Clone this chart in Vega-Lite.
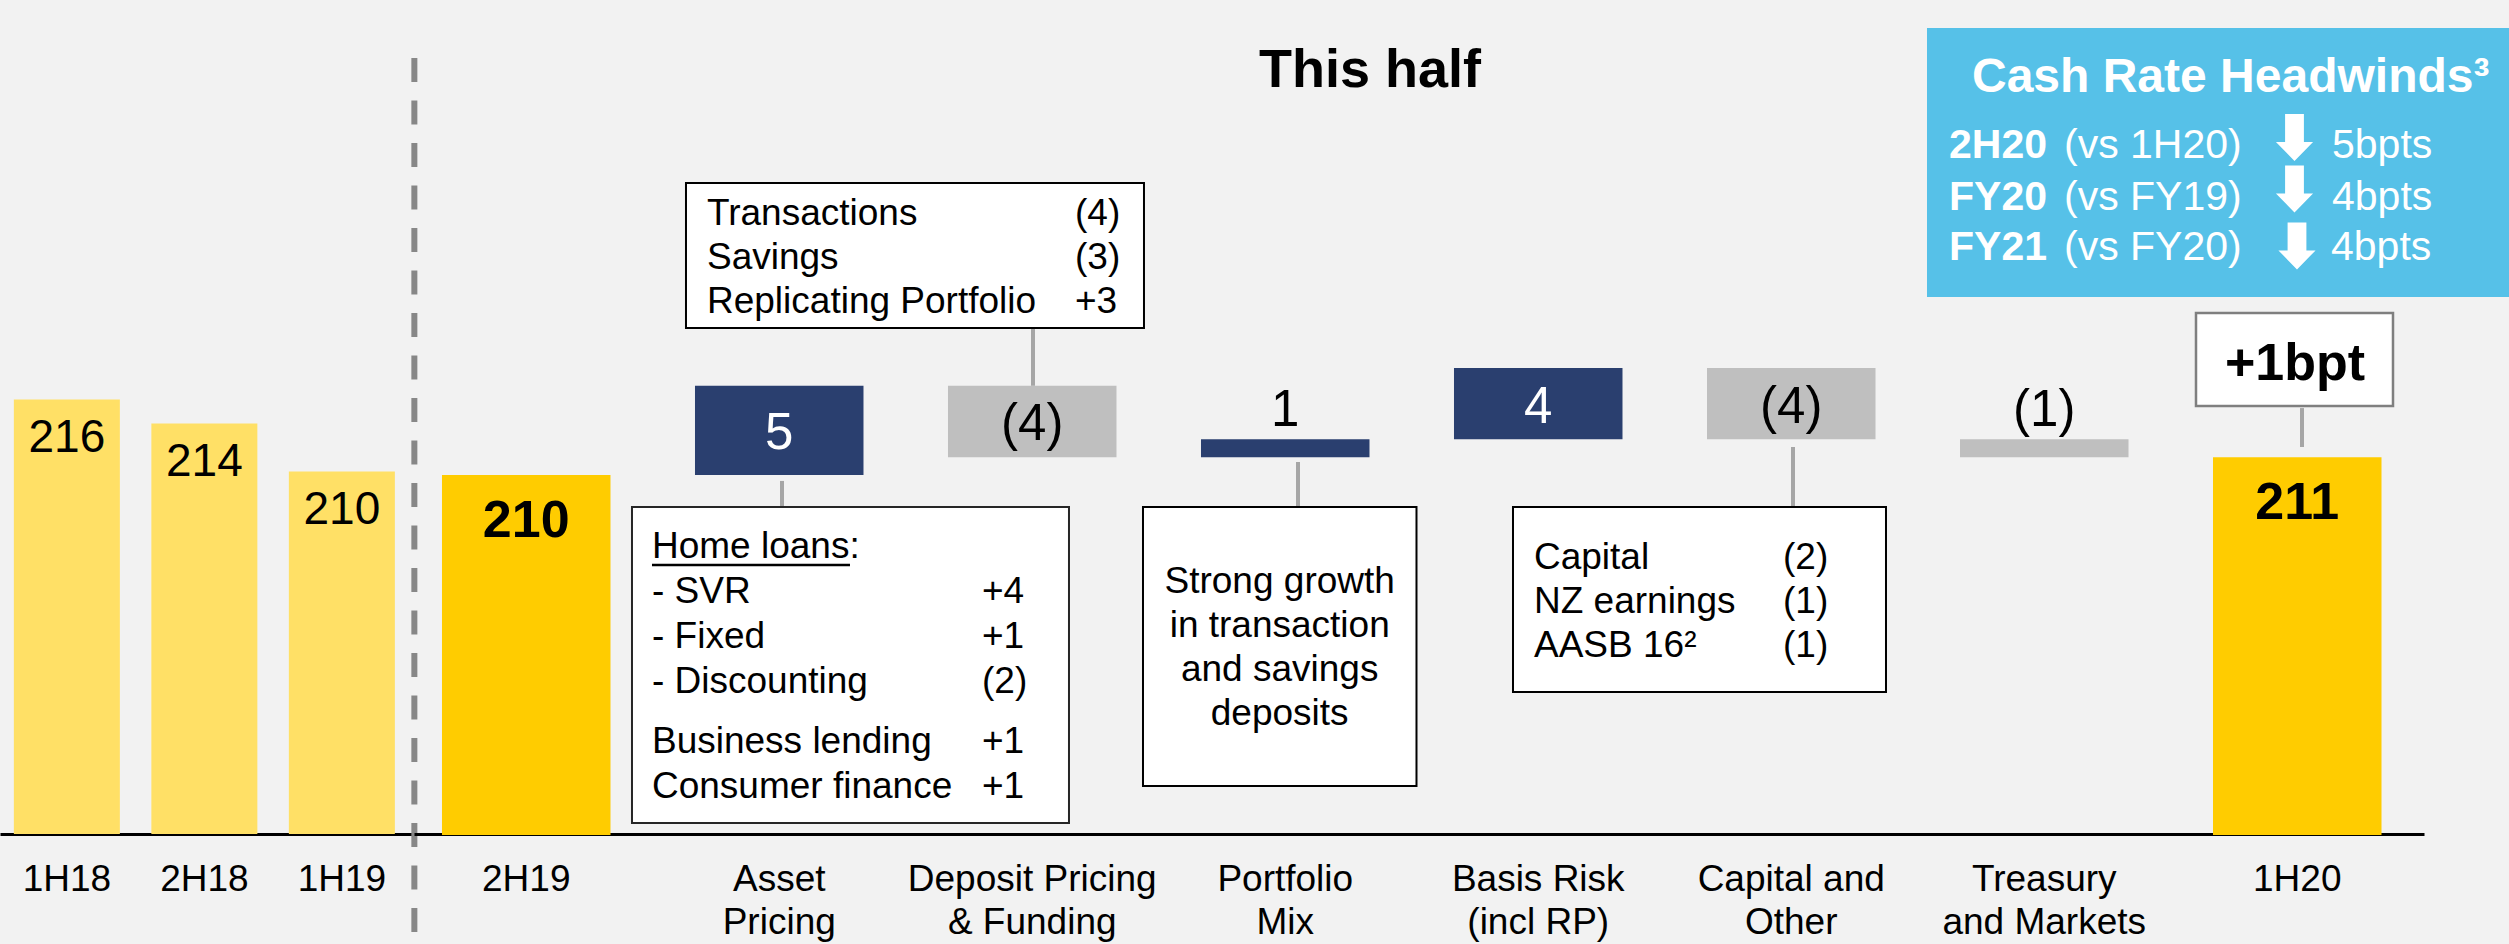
{
  "$schema": "https://vega.github.io/schema/vega-lite/v6.json",
  "background": "#f2f2f2",
  "padding": 0,
  "spacing": 0,
  "bounds": "flush",
  "config": {
    "font": "Liberation Sans",
    "view": {"stroke": null},
    "text": {"font": "Liberation Sans"},
    "axisX": {
      "domainColor": "black",
      "domainWidth": 3,
      "ticks": false,
      "tickSize": 0,
      "labelFont": "Liberation Sans",
      "labelFontSize": 37,
      "labelColor": "black",
      "labelPadding": 27,
      "labelLineHeight": 43,
      "labelAngle": 0,
      "labelLimit": 600,
      "labelOverlap": false,
      "zindex": 1
    }
  },
  "datasets": {
    "history": [
      {"period": "1H18", "value": 216},
      {"period": "2H18", "value": 214},
      {"period": "1H19", "value": 210}
    ],
    "totals": [
      {"category": "2H19", "value": 210},
      {"category": "1H20", "value": 211}
    ],
    "changes": [
      {"category": "Asset Pricing", "start": 210, "end": 215, "kind": "increase", "label": "5"},
      {"category": "Deposit Pricing & Funding", "start": 215, "end": 211, "kind": "decrease", "label": "(4)"},
      {"category": "Portfolio Mix", "start": 211, "end": 212, "kind": "increase", "label": "1"},
      {"category": "Basis Risk (incl RP)", "start": 212, "end": 216, "kind": "increase", "label": "4"},
      {"category": "Capital and Other", "start": 216, "end": 212, "kind": "decrease", "label": "(4)"},
      {"category": "Treasury and Markets", "start": 212, "end": 211, "kind": "decrease", "label": "(1)"}
    ],
    "notes": [
      {"box": "deposit", "category": "Deposit Pricing & Funding", "left": ["Transactions", "Savings", "Replicating Portfolio"], "right": ["(4)", "(3)", "+3"]},
      {"box": "asset", "category": "Asset Pricing", "left": ["Home loans:", "- SVR", "- Fixed", "- Discounting"], "right": ["", "+4", "+1", "(2)"]},
      {"box": "asset-other", "category": "Asset Pricing", "left": ["Business lending", "Consumer finance"], "right": ["+1", "+1"]},
      {"box": "portfolio", "category": "Portfolio Mix", "left": ["Strong growth", "in transaction", "and savings", "deposits"]},
      {"box": "capital", "category": "Capital and Other", "left": ["Capital", "NZ earnings", "AASB 16²"], "right": ["(2)", "(1)", "(1)"]},
      {"box": "total", "category": "1H20", "left": ["+1bpt"]},
      {"box": "heading", "category": "Portfolio Mix", "left": ["This half"]},
      {"box": "headwinds", "category": "1H20", "left": ["Cash Rate Headwinds³"]}
    ],
    "headwinds": [
      {"period": "2H20", "vs": "(vs 1H20)", "change": "5bpts"},
      {"period": "FY20", "vs": "(vs FY19)", "change": "4bpts"},
      {"period": "FY21", "vs": "(vs FY20)", "change": "4bpts"}
    ]
  },
  "hconcat": [
    {
      "width": 414,
      "height": 834,
      "data": {"name": "history"},
      "layer": [
        {
          "mark": {"type": "bar", "color": "#FFE066"},
          "encoding": {
            "x": {"field": "period", "type": "nominal", "scale": {"domain": ["1H18", "2H18", "1H19"], "paddingInner": 0.229, "paddingOuter": 0.12, "align": 0.42}, "axis": {"title": null}},
            "y": {"field": "value", "type": "quantitative", "scale": {"domain": [179.8, 249.3], "zero": false, "nice": false}, "axis": null},
            "y2": {"datum": 179.8}
          }
        },
        {
          "mark": {"type": "text", "fontSize": 46, "dy": 52, "baseline": "alphabetic", "align": "center", "color": "black"},
          "encoding": {
            "x": {"field": "period", "type": "nominal"},
            "y": {"field": "value", "type": "quantitative", "axis": null},
            "text": {"field": "value", "type": "quantitative"}
          }
        },
        {
          "transform": [{"filter": "datum.period == '1H19'"}],
          "mark": {"type": "rule", "xOffset": 72.5, "strokeWidth": 6, "strokeDash": [24, 18.5], "color": "#878787"},
          "encoding": {
            "x": {"field": "period", "type": "nominal"},
            "y": {"datum": 244.47, "type": "quantitative", "axis": null},
            "y2": {"datum": 170.63}
          }
        }
      ]
    },
    {
      "width": 2095,
      "height": 834,
      "layer": [
        {
          "data": {"name": "totals"},
          "mark": {"type": "bar", "color": "#FFCC00"},
          "encoding": {
            "x": {
              "field": "category", "type": "nominal",
              "scale": {
                "domain": ["2H19", "Asset Pricing", "Deposit Pricing & Funding", "Portfolio Mix", "Basis Risk (incl RP)", "Capital and Other", "Treasury and Markets", "1H20"],
                "range": [0, 2010], "paddingInner": 0.334, "paddingOuter": 0.1393, "align": 0.397
              },
              "axis": {
                "title": null,
                "labelExpr": "datum.value == 'Asset Pricing' ? ['Asset', 'Pricing'] : datum.value == 'Deposit Pricing & Funding' ? ['Deposit Pricing', '& Funding'] : datum.value == 'Portfolio Mix' ? ['Portfolio', 'Mix'] : datum.value == 'Basis Risk (incl RP)' ? ['Basis Risk', '(incl RP)'] : datum.value == 'Capital and Other' ? ['Capital and', 'Other'] : datum.value == 'Treasury and Markets' ? ['Treasury', 'and Markets'] : datum.label"
              }
            },
            "y": {"field": "value", "type": "quantitative", "scale": {"domain": [189.9, 236.6], "zero": false, "nice": false}, "axis": null},
            "y2": {"datum": 189.85}
          }
        },
        {
          "data": {"name": "changes"},
          "mark": {"type": "bar"},
          "encoding": {
            "x": {"field": "category", "type": "nominal"},
            "y": {"field": "start", "type": "quantitative", "axis": null},
            "y2": {"field": "end"},
            "color": {"field": "kind", "type": "nominal", "scale": {"domain": ["increase", "decrease"], "range": ["#2A3F6F", "#BFBFBF"]}, "legend": null}
          }
        },
        {
          "data": {"name": "totals"},
          "mark": {"type": "text", "fontSize": 52, "fontWeight": "bold", "dy": 62, "baseline": "alphabetic", "color": "black"},
          "encoding": {
            "x": {"field": "category", "type": "nominal"},
            "y": {"field": "value", "type": "quantitative", "axis": null},
            "text": {"field": "value", "type": "quantitative"}
          }
        },
        {
          "data": {"name": "changes"},
          "transform": [
            {"filter": "abs(datum.end - datum.start) >= 2"},
            {"fold": ["start", "end"], "as": ["edge", "level"]},
            {"aggregate": [{"op": "mean", "field": "level", "as": "mid"}], "groupby": ["category", "label", "kind"]}
          ],
          "mark": {"type": "text", "fontSize": 51, "baseline": "middle", "dy": 4},
          "encoding": {
            "x": {"field": "category", "type": "nominal"},
            "y": {"field": "mid", "type": "quantitative", "axis": null},
            "text": {"field": "label", "type": "nominal"},
            "color": {"condition": {"test": "datum.kind == 'increase'", "value": "white"}, "value": "black"}
          }
        },
        {
          "data": {"name": "changes"},
          "transform": [
            {"filter": "abs(datum.end - datum.start) < 2"},
            {"fold": ["start", "end"], "as": ["edge", "level"]},
            {"aggregate": [{"op": "max", "field": "level", "as": "top"}], "groupby": ["category", "label"]}
          ],
          "mark": {"type": "text", "fontSize": 51, "baseline": "alphabetic", "dy": -13, "color": "black"},
          "encoding": {
            "x": {"field": "category", "type": "nominal"},
            "y": {"field": "top", "type": "quantitative", "axis": null},
            "text": {"field": "label", "type": "nominal"}
          }
        },
        {
          "data": {"name": "notes"},
          "transform": [{"filter": "datum.box == 'deposit'"}],
          "layer": [
            {
              "mark": {"type": "rule", "xOffset": 0.75, "strokeWidth": 4, "color": "#A6A6A6"},
              "encoding": {"x": {"field": "category", "type": "nominal"}, "y": {"datum": 218.23, "type": "quantitative", "axis": null}, "y2": {"datum": 215}}
            },
            {
              "mark": {"type": "bar", "width": 458, "xOffset": -117.25, "fill": "white", "stroke": "black", "strokeWidth": 2},
              "encoding": {"x": {"field": "category", "type": "nominal"}, "y": {"datum": 226.35, "type": "quantitative", "axis": null}, "y2": {"datum": 218.23}}
            },
            {
              "mark": {"type": "text", "align": "left", "baseline": "alphabetic", "fontSize": 37, "lineHeight": 44, "dx": -325.25, "color": "black"},
              "encoding": {"x": {"field": "category", "type": "nominal"}, "y": {"datum": 224.0, "type": "quantitative", "axis": null}, "text": {"field": "left", "type": "nominal"}}
            },
            {
              "mark": {"type": "text", "align": "left", "baseline": "alphabetic", "fontSize": 37, "lineHeight": 44, "dx": 42.75, "color": "black"},
              "encoding": {"x": {"field": "category", "type": "nominal"}, "y": {"datum": 224.0, "type": "quantitative", "axis": null}, "text": {"field": "right", "type": "nominal"}}
            }
          ]
        },
        {
          "data": {"name": "notes"},
          "transform": [{"filter": "datum.box == 'asset'"}],
          "layer": [
            {
              "mark": {"type": "rule", "xOffset": 2.75, "strokeWidth": 4, "color": "#A6A6A6"},
              "encoding": {"x": {"field": "category", "type": "nominal"}, "y": {"datum": 209.67, "type": "quantitative", "axis": null}, "y2": {"datum": 208.21}}
            },
            {
              "mark": {"type": "bar", "width": 437, "xOffset": 71.25, "fill": "white", "stroke": "#262626", "strokeWidth": 2},
              "encoding": {"x": {"field": "category", "type": "nominal"}, "y": {"datum": 208.21, "type": "quantitative", "axis": null}, "y2": {"datum": 190.52}}
            },
            {
              "mark": {"type": "text", "align": "left", "baseline": "alphabetic", "fontSize": 37, "lineHeight": 45, "dx": -127.25, "color": "black"},
              "encoding": {"x": {"field": "category", "type": "nominal"}, "y": {"datum": 205.35, "type": "quantitative", "axis": null}, "text": {"field": "left", "type": "nominal"}}
            },
            {
              "mark": {"type": "text", "align": "left", "baseline": "alphabetic", "fontSize": 37, "lineHeight": 45, "dx": 202.75, "color": "black"},
              "encoding": {"x": {"field": "category", "type": "nominal"}, "y": {"datum": 205.35, "type": "quantitative", "axis": null}, "text": {"field": "right", "type": "nominal"}}
            },
            {
              "mark": {"type": "rule", "xOffset": -127.25, "x2Offset": 70.75, "strokeWidth": 2.5, "color": "black"},
              "encoding": {"x": {"field": "category", "type": "nominal"}, "x2": {"field": "category"}, "y": {"datum": 204.96, "type": "quantitative", "axis": null}}
            }
          ]
        },
        {
          "data": {"name": "notes"},
          "transform": [{"filter": "datum.box == 'asset-other'"}],
          "layer": [
            {
              "mark": {"type": "text", "align": "left", "baseline": "alphabetic", "fontSize": 37, "lineHeight": 45, "dx": -127.25, "color": "black"},
              "encoding": {"x": {"field": "category", "type": "nominal"}, "y": {"datum": 194.44, "type": "quantitative", "axis": null}, "text": {"field": "left", "type": "nominal"}}
            },
            {
              "mark": {"type": "text", "align": "left", "baseline": "alphabetic", "fontSize": 37, "lineHeight": 45, "dx": 202.75, "color": "black"},
              "encoding": {"x": {"field": "category", "type": "nominal"}, "y": {"datum": 194.44, "type": "quantitative", "axis": null}, "text": {"field": "right", "type": "nominal"}}
            }
          ]
        },
        {
          "data": {"name": "notes"},
          "transform": [{"filter": "datum.box == 'portfolio'"}],
          "layer": [
            {
              "mark": {"type": "rule", "xOffset": 12.75, "strokeWidth": 4, "color": "#A6A6A6"},
              "encoding": {"x": {"field": "category", "type": "nominal"}, "y": {"datum": 210.73, "type": "quantitative", "axis": null}, "y2": {"datum": 208.21}}
            },
            {
              "mark": {"type": "bar", "width": 273.5, "xOffset": -5.5, "fill": "white", "stroke": "black", "strokeWidth": 2},
              "encoding": {"x": {"field": "category", "type": "nominal"}, "y": {"datum": 208.21, "type": "quantitative", "axis": null}, "y2": {"datum": 192.59}}
            },
            {
              "mark": {"type": "text", "align": "center", "baseline": "alphabetic", "fontSize": 37, "lineHeight": 44, "dx": -5.55, "color": "black"},
              "encoding": {"x": {"field": "category", "type": "nominal"}, "y": {"datum": 203.42, "type": "quantitative", "axis": null}, "text": {"field": "left", "type": "nominal"}}
            }
          ]
        },
        {
          "data": {"name": "notes"},
          "transform": [{"filter": "datum.box == 'capital'"}],
          "layer": [
            {
              "mark": {"type": "rule", "xOffset": 1.75, "strokeWidth": 4, "color": "#A6A6A6"},
              "encoding": {"x": {"field": "category", "type": "nominal"}, "y": {"datum": 211.57, "type": "quantitative", "axis": null}, "y2": {"datum": 208.21}}
            },
            {
              "mark": {"type": "bar", "width": 373, "xOffset": -91.75, "fill": "white", "stroke": "black", "strokeWidth": 2},
              "encoding": {"x": {"field": "category", "type": "nominal"}, "y": {"datum": 208.21, "type": "quantitative", "axis": null}, "y2": {"datum": 197.85}}
            },
            {
              "mark": {"type": "text", "align": "left", "baseline": "alphabetic", "fontSize": 37, "lineHeight": 44, "dx": -257.25, "color": "black"},
              "encoding": {"x": {"field": "category", "type": "nominal"}, "y": {"datum": 204.74, "type": "quantitative", "axis": null}, "text": {"field": "left", "type": "nominal"}}
            },
            {
              "mark": {"type": "text", "align": "left", "baseline": "alphabetic", "fontSize": 37, "lineHeight": 44, "dx": -8.25, "color": "black"},
              "encoding": {"x": {"field": "category", "type": "nominal"}, "y": {"datum": 204.74, "type": "quantitative", "axis": null}, "text": {"field": "right", "type": "nominal"}}
            }
          ]
        },
        {
          "data": {"name": "notes"},
          "transform": [{"filter": "datum.box == 'total'"}],
          "layer": [
            {
              "mark": {"type": "rule", "xOffset": 4.75, "strokeWidth": 4, "color": "#A6A6A6"},
              "encoding": {"x": {"field": "category", "type": "nominal"}, "y": {"datum": 213.75, "type": "quantitative", "axis": null}, "y2": {"datum": 211.57}}
            },
            {
              "mark": {"type": "bar", "width": 197, "xOffset": -2.75, "fill": "white", "stroke": "#7F7F7F", "strokeWidth": 2.5},
              "encoding": {"x": {"field": "category", "type": "nominal"}, "y": {"datum": 219.07, "type": "quantitative", "axis": null}, "y2": {"datum": 213.87}}
            },
            {
              "mark": {"type": "text", "align": "center", "baseline": "alphabetic", "fontSize": 52, "fontWeight": "bold", "dx": -2.25, "color": "black"},
              "encoding": {"x": {"field": "category", "type": "nominal"}, "y": {"datum": 215.32, "type": "quantitative", "axis": null}, "text": {"field": "left", "type": "nominal"}}
            }
          ]
        },
        {
          "data": {"name": "notes"},
          "transform": [{"filter": "datum.box == 'heading'"}],
          "mark": {"type": "text", "align": "center", "baseline": "alphabetic", "fontSize": 54, "fontWeight": "bold", "dx": 84.75, "color": "black"},
          "encoding": {"x": {"field": "category", "type": "nominal"}, "y": {"datum": 231.73, "type": "quantitative", "axis": null}, "text": {"field": "left", "type": "nominal"}}
        },
        {
          "data": {"name": "notes"},
          "transform": [{"filter": "datum.box == 'headwinds'"}],
          "layer": [
            {
              "mark": {"type": "bar", "width": 590, "xOffset": -75.25, "fill": "#56C1E8"},
              "encoding": {"x": {"field": "category", "type": "nominal"}, "y": {"datum": 235.03, "type": "quantitative", "axis": null}, "y2": {"datum": 219.97}}
            },
            {
              "mark": {"type": "text", "align": "left", "baseline": "alphabetic", "fontSize": 48, "fontWeight": "bold", "dx": -325.25, "color": "white"},
              "encoding": {"x": {"field": "category", "type": "nominal"}, "y": {"datum": 231.45, "type": "quantitative", "axis": null}, "text": {"field": "left", "type": "nominal"}}
            }
          ]
        },
        {
          "data": {"name": "headwinds"},
          "transform": [{"filter": "datum.period == '2H20'"}],
          "layer": [
            {"mark": {"type": "text", "align": "left", "baseline": "alphabetic", "fontSize": 41, "fontWeight": "bold", "dx": -348.25, "color": "white"},
             "encoding": {"x": {"datum": "1H20", "type": "nominal"}, "y": {"datum": 227.75, "type": "quantitative", "axis": null}, "text": {"field": "period", "type": "nominal"}}},
            {"mark": {"type": "text", "align": "left", "baseline": "alphabetic", "fontSize": 41, "dx": -233.25, "color": "white"},
             "encoding": {"x": {"datum": "1H20", "type": "nominal"}, "y": {"datum": 227.75, "type": "quantitative", "axis": null}, "text": {"field": "vs", "type": "nominal"}}},
            {"mark": {"type": "point", "shape": "M-0.4,-1L0.4,-1L0.4,0.19L0.79,0.19L0,1L-0.79,0.19L-0.4,0.19Z", "size": 2209, "filled": true, "color": "white", "opacity": 1, "xOffset": -2.75},
             "encoding": {"x": {"datum": "1H20", "type": "nominal"}, "y": {"datum": 228.9, "type": "quantitative", "axis": null}}},
            {"mark": {"type": "text", "align": "left", "baseline": "alphabetic", "fontSize": 41, "dx": 34.75, "color": "white"},
             "encoding": {"x": {"datum": "1H20", "type": "nominal"}, "y": {"datum": 227.75, "type": "quantitative", "axis": null}, "text": {"field": "change", "type": "nominal"}}}
          ]
        },
        {
          "data": {"name": "headwinds"},
          "transform": [{"filter": "datum.period == 'FY20'"}],
          "layer": [
            {"mark": {"type": "text", "align": "left", "baseline": "alphabetic", "fontSize": 41, "fontWeight": "bold", "dx": -348.25, "color": "white"},
             "encoding": {"x": {"datum": "1H20", "type": "nominal"}, "y": {"datum": 224.84, "type": "quantitative", "axis": null}, "text": {"field": "period", "type": "nominal"}}},
            {"mark": {"type": "text", "align": "left", "baseline": "alphabetic", "fontSize": 41, "dx": -233.25, "color": "white"},
             "encoding": {"x": {"datum": "1H20", "type": "nominal"}, "y": {"datum": 224.84, "type": "quantitative", "axis": null}, "text": {"field": "vs", "type": "nominal"}}},
            {"mark": {"type": "point", "shape": "M-0.4,-1L0.4,-1L0.4,0.19L0.79,0.19L0,1L-0.79,0.19L-0.4,0.19Z", "size": 2209, "filled": true, "color": "white", "opacity": 1, "xOffset": -2.75},
             "encoding": {"x": {"datum": "1H20", "type": "nominal"}, "y": {"datum": 226.02, "type": "quantitative", "axis": null}}},
            {"mark": {"type": "text", "align": "left", "baseline": "alphabetic", "fontSize": 41, "dx": 34.75, "color": "white"},
             "encoding": {"x": {"datum": "1H20", "type": "nominal"}, "y": {"datum": 224.84, "type": "quantitative", "axis": null}, "text": {"field": "change", "type": "nominal"}}}
          ]
        },
        {
          "data": {"name": "headwinds"},
          "transform": [{"filter": "datum.period == 'FY21'"}],
          "layer": [
            {"mark": {"type": "text", "align": "left", "baseline": "alphabetic", "fontSize": 41, "fontWeight": "bold", "dx": -348.25, "color": "white"},
             "encoding": {"x": {"datum": "1H20", "type": "nominal"}, "y": {"datum": 222.04, "type": "quantitative", "axis": null}, "text": {"field": "period", "type": "nominal"}}},
            {"mark": {"type": "text", "align": "left", "baseline": "alphabetic", "fontSize": 41, "dx": -233.25, "color": "white"},
             "encoding": {"x": {"datum": "1H20", "type": "nominal"}, "y": {"datum": 222.04, "type": "quantitative", "axis": null}, "text": {"field": "vs", "type": "nominal"}}},
            {"mark": {"type": "point", "shape": "M-0.4,-1L0.4,-1L0.4,0.19L0.79,0.19L0,1L-0.79,0.19L-0.4,0.19Z", "size": 2209, "filled": true, "color": "white", "opacity": 1, "xOffset": -0.25},
             "encoding": {"x": {"datum": "1H20", "type": "nominal"}, "y": {"datum": 222.83, "type": "quantitative", "axis": null}}},
            {"mark": {"type": "text", "align": "left", "baseline": "alphabetic", "fontSize": 41, "dx": 33.75, "color": "white"},
             "encoding": {"x": {"datum": "1H20", "type": "nominal"}, "y": {"datum": 222.04, "type": "quantitative", "axis": null}, "text": {"field": "change", "type": "nominal"}}}
          ]
        }
      ]
    }
  ]
}
